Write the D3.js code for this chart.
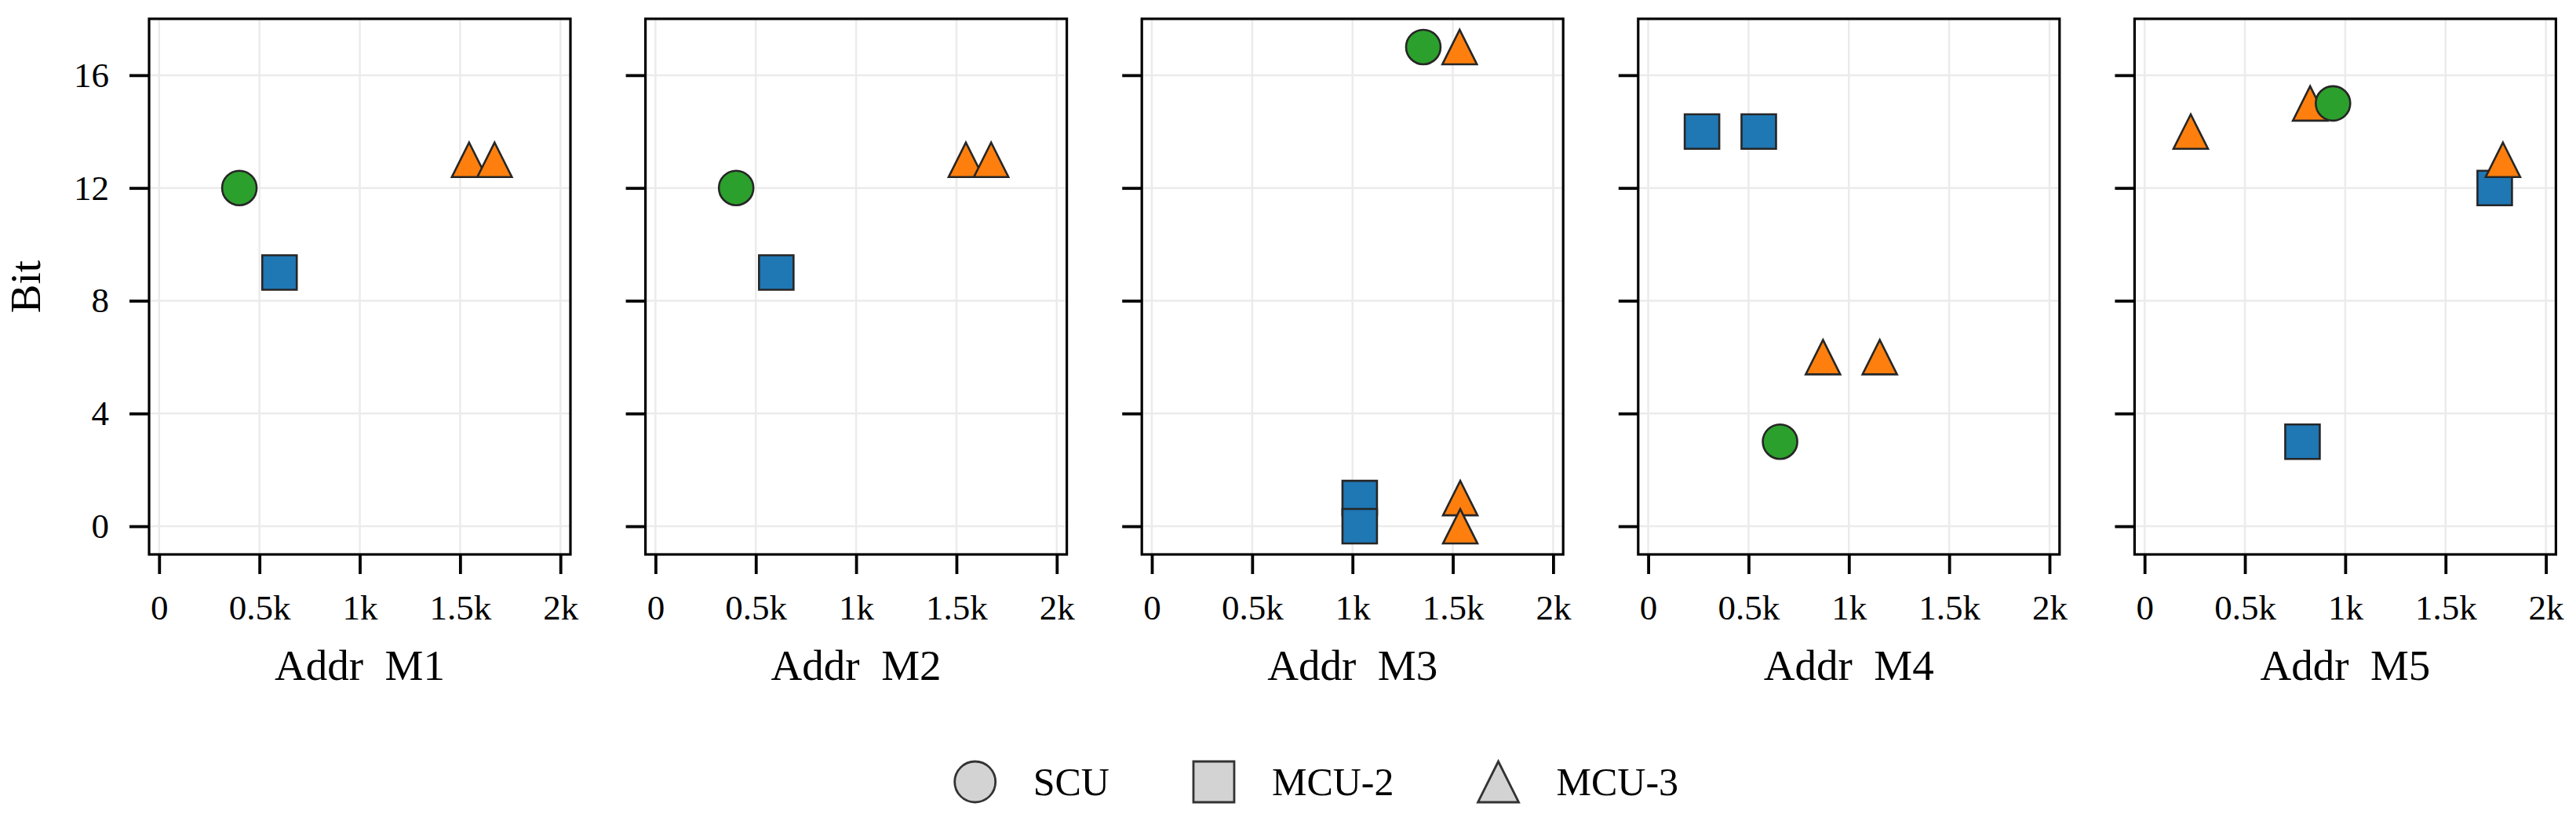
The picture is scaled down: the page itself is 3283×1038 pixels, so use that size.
<!DOCTYPE html>
<html>
<head>
<meta charset="utf-8">
<script src="https://cdn.jsdelivr.net/npm/d3@7"></script>
<style>
  html, body { margin: 0; padding: 0; background: #fff; }
  svg { display: block; font-family: "Liberation Serif", "DejaVu Serif", serif; }
  .axis text { font-family: "Liberation Serif", serif; font-size: 45px; fill: #000; }
  .label { font-family: "Liberation Serif", serif; font-size: 55px; fill: #000; white-space: pre; }
  .legend text { font-family: "Liberation Serif", serif; font-size: 50px; fill: #000; }
</style>
</head>
<body>
<svg id="chart"></svg>
<script>
// panel titles (x labels)
const panelLabels = ["Addr  M1", "Addr  M2", "Addr  M3", "Addr  M4", "Addr  M5"];

// SCU (circles), per panel
const scuX = [[400], [402], [1353], [657], [939]];
const scuY = [[12], [12], [17], [3], [15]];

// MCU-2 (squares), per panel
const mcu2X = [[600], [602], [1036, 1036], [268, 551], [787, 1745]];
const mcu2Y = [[9], [9], [1, 0], [14, 14], [3, 12]];

// MCU-3 (triangles), per panel
const mcu3X = [[1545, 1672], [1547, 1673], [1534, 1537, 1537], [871, 1154], [230, 825, 1786]];
const mcu3Y = [[13, 13], [13, 13], [17, 1, 0], [6, 6], [14, 15, 13]];

const xTicks = [0, 500, 1000, 1500, 2000];
const xTickLabels = ["0", "0.5k", "1k", "1.5k", "2k"];
const yTicks = [0, 4, 8, 12, 16];

const seriesNames = ["SCU", "MCU-2", "MCU-3"];
const seriesColors = ["#2ca02c", "#1f77b4", "#ff7f0e"];

const width = 3283, height = 1038;
const panelLeft = 190, panelStep = 632.6, panelW = 537;
const panelTop = 24, panelH = 683;
const markerSize = 44, legendMarkerSize = 52;

// matplotlib style "^": width == height, centred on its box
const triangleType = {
  draw(context, size) {
    const h = Math.sqrt(size) / 2;
    context.moveTo(0, -h);
    context.lineTo(h, h);
    context.lineTo(-h, h);
    context.closePath();
  }
};

function symbolPath(kind, side) {
  if (kind === 0) return d3.symbol(d3.symbolCircle, Math.PI * (side / 2) ** 2)();
  if (kind === 1) return d3.symbol(d3.symbolSquare, side * side)();
  return d3.symbol(triangleType, side * side)();
}

const svg = d3.select("#chart").attr("width", width).attr("height", height);

const x = d3.scaleLinear().domain([-50, 2050]).range([0, panelW]);
const y = d3.scaleLinear().domain([-1, 18]).range([panelH, 0]);

const series = [
  { kind: 0, xs: scuX, ys: scuY },
  { kind: 1, xs: mcu2X, ys: mcu2Y },
  { kind: 2, xs: mcu3X, ys: mcu3Y }
];
// draw order: squares, triangles, circles
const drawOrder = [1, 2, 0];

panelLabels.forEach((label, i) => {
  const g = svg.append("g")
    .attr("transform", `translate(${panelLeft + i * panelStep}, ${panelTop})`);

  // grid
  g.append("g").selectAll("line").data(xTicks).join("line")
    .attr("x1", d => x(d)).attr("x2", d => x(d))
    .attr("y1", 0).attr("y2", panelH)
    .attr("stroke", "#ebebeb").attr("stroke-width", 2.5);
  g.append("g").selectAll("line").data(yTicks).join("line")
    .attr("y1", d => y(d)).attr("y2", d => y(d))
    .attr("x1", 0).attr("x2", panelW)
    .attr("stroke", "#ebebeb").attr("stroke-width", 2.5);

  // points
  drawOrder.forEach(s => {
    const ser = series[s];
    const pts = ser.xs[i].map((v, j) => ({ x: v, y: ser.ys[i][j] }));
    g.append("g").selectAll("path").data(pts).join("path")
      .attr("transform", d => `translate(${x(d.x)}, ${y(d.y)})`)
      .attr("d", symbolPath(ser.kind, markerSize))
      .attr("fill", seriesColors[ser.kind])
      .attr("stroke", "#262626")
      .attr("stroke-width", 2.6);
  });

  // axes
  const xAxis = g.append("g").attr("class", "axis")
    .attr("transform", `translate(0, ${panelH})`)
    .call(d3.axisBottom(x).tickValues(xTicks)
      .tickFormat((d, k) => xTickLabels[k])
      .tickSize(25).tickSizeOuter(0).tickPadding(26));
  const yAxis = g.append("g").attr("class", "axis")
    .call(d3.axisLeft(y).tickValues(yTicks)
      .tickFormat(i === 0 ? d3.format("d") : () => "")
      .tickSize(25).tickSizeOuter(0).tickPadding(26));
  [xAxis, yAxis].forEach(a => {
    a.attr("font-family", null).attr("font-size", null);
    a.select(".domain").remove();
    a.selectAll(".tick line").attr("stroke", "#000").attr("stroke-width", 3.8);
  });

  // spines
  g.append("rect")
    .attr("width", panelW).attr("height", panelH)
    .attr("fill", "none").attr("stroke", "#000").attr("stroke-width", 3.2);

  g.append("text").attr("class", "label")
    .attr("x", panelW / 2).attr("y", 867 - panelTop)
    .attr("text-anchor", "middle")
    .text(label);
});

// y label
svg.append("text").attr("class", "label")
  .attr("transform", `translate(51, ${panelTop + panelH / 2}) rotate(-90)`)
  .attr("text-anchor", "middle")
  .text("Bit");

// legend
const legend = svg.append("g").attr("class", "legend");
let lx = 1242.7;
seriesNames.forEach((name, k) => {
  legend.append("path")
    .attr("transform", `translate(${lx}, 997)`)
    .attr("d", symbolPath(k, legendMarkerSize))
    .attr("fill", "#d3d3d3")
    .attr("stroke", "#333")
    .attr("stroke-width", 2.8);
  const t = legend.append("text")
    .attr("x", lx + 74).attr("y", 1014)
    .text(name);
  lx += 74 + t.node().getComputedTextLength() + 133;
});
</script>
</body>
</html>
